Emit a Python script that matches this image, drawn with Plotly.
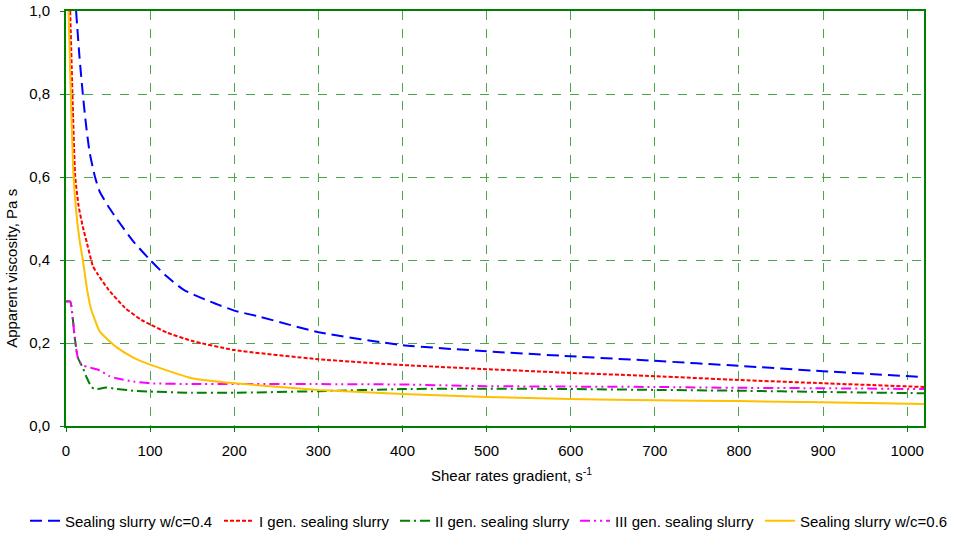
import plotly.graph_objects as go

# Data
x_blue = [12, 16, 20, 23, 28, 34.5, 40, 50, 60, 80, 100, 120, 140, 171, 200, 231, 300, 400, 500, 600, 700, 800, 900, 1020]
y_blue = [1.0, 0.89, 0.80, 0.74, 0.66, 0.60, 0.565, 0.53, 0.50, 0.445, 0.40, 0.36, 0.328, 0.30, 0.278, 0.263, 0.226, 0.195, 0.18, 0.168, 0.157, 0.145, 0.132, 0.118]

x_red = [5, 8.5, 11, 15, 20, 25, 32, 37, 50, 70, 90, 100, 120, 150, 200, 300, 400, 500, 600, 700, 800, 900, 1020]
y_red = [1.0, 0.74, 0.60, 0.53, 0.48, 0.44, 0.385, 0.368, 0.33, 0.285, 0.255, 0.245, 0.225, 0.205, 0.183, 0.161, 0.147, 0.137, 0.128, 0.12, 0.111, 0.103, 0.094]

x_green = [0, 5, 8, 10, 14, 20, 25, 30, 35, 40, 48, 58, 80, 100, 150, 200, 300, 400, 500, 600, 700, 800, 900, 1020]
y_green = [0.30, 0.30, 0.26, 0.22, 0.165, 0.14, 0.115, 0.095, 0.088, 0.090, 0.093, 0.090, 0.085, 0.083, 0.080, 0.080, 0.084, 0.089, 0.090, 0.089, 0.087, 0.085, 0.082, 0.079]

x_magenta = [0, 5, 8, 10, 14, 19, 25, 30, 40, 52, 60, 80, 100, 150, 200, 300, 400, 500, 600, 700, 800, 900, 1020]
y_magenta = [0.30, 0.30, 0.26, 0.22, 0.165, 0.147, 0.143, 0.140, 0.134, 0.120, 0.115, 0.107, 0.103, 0.101, 0.101, 0.101, 0.100, 0.096, 0.095, 0.094, 0.092, 0.091, 0.089]

x_yellow = [3, 5, 8.5, 12, 16, 20, 25, 30, 34.5, 40, 60, 80, 100, 150, 200, 300, 400, 500, 600, 700, 800, 900, 1020]
y_yellow = [1.0, 0.85, 0.62, 0.52, 0.45, 0.40, 0.33, 0.28, 0.255, 0.228, 0.19, 0.165, 0.148, 0.115, 0.103, 0.087, 0.077, 0.070, 0.065, 0.062, 0.060, 0.057, 0.053]

names = ["Sealing slurry w/c=0.4", "I gen. sealing slurry", "II gen. sealing slurry",
         "III gen. sealing slurry", "Sealing slurry w/c=0.6"]

x_title = "Shear rates gradient, s<sup>-1</sup>"
y_title = "Apparent viscosity, Pa s"

y_tickvals = [0, 0.2, 0.4, 0.6, 0.8, 1.0]
y_ticktext = ["0,0", "0,2", "0,4", "0,6", "0,8", "1,0"]
x_tickvals = [0, 100, 200, 300, 400, 500, 600, 700, 800, 900, 1000]

series = [
    (x_blue, y_blue, "#0000FF", "12px,6px", 2),
    (x_red, y_red, "#FF0000", "4px,2px", 2),
    (x_green, y_green, "#008000", "10px,4px,2px,4px", 2),
    (x_magenta, y_magenta, "#FF00FF", "10px,4px,2px,4px,2px,4px", 2),
    (x_yellow, y_yellow, "#FFC000", "solid", 2),
]

# left edge (px) of each legend entry, one legend box per series
legend_left_px = [25, 219, 395, 575, 760]
legend_ids = ["legend", "legend2", "legend3", "legend4", "legend5"]

W, H = 953, 535
fig = go.Figure()
for (xs, ys, c, d, w), n, lid in zip(series, names, legend_ids):
    fig.add_trace(go.Scatter(x=xs, y=ys, name=n, mode="lines", legend=lid, showlegend=True,
                             line=dict(color=c, dash=d, width=w, shape="spline", smoothing=0.5)))

green = "#008000"
grid = "#4CA64C"
FS = 15
layout_legends = {}
for lid, px in zip(legend_ids, legend_left_px):
    layout_legends[lid] = dict(orientation="h", xref="container", yref="container",
                               x=px / W, xanchor="left", y=(H - 521) / H, yanchor="middle",
                               font=dict(size=FS), itemwidth=30, bgcolor="rgba(0,0,0,0)",
                               visible=True)

fig.update_layout(
    width=W, height=H,
    showlegend=True,
    margin=dict(l=66, r=29, t=11, b=109, autoexpand=False),
    paper_bgcolor="white", plot_bgcolor="white",
    font=dict(family="Liberation Sans, Arial, sans-serif", size=FS, color="black"),
    xaxis=dict(range=[0, 1020], tickvals=x_tickvals, showgrid=True, gridcolor=grid,
               griddash="dash", gridwidth=1, showline=True, linecolor=green, linewidth=2,
               mirror=True, ticks="outside", tickcolor=green, ticklen=4, zeroline=False,
               ticklabelstandoff=6),
    yaxis=dict(range=[0, 1.0], tickvals=y_tickvals, ticktext=y_ticktext, showgrid=True,
               gridcolor=grid, griddash="dash", gridwidth=1, showline=True, linecolor=green,
               linewidth=2, mirror=True, ticks="outside", tickcolor=green, ticklen=4,
               zeroline=False, ticklabelstandoff=7),
    annotations=[
        dict(text=x_title, xref="paper", yref="paper", x=0.519, y=-0.118,
             xanchor="center", yanchor="middle", showarrow=False, font=dict(size=FS)),
        dict(text=y_title, xref="paper", yref="paper", x=-0.063, y=0.381,
             xanchor="center", yanchor="middle", textangle=-90, showarrow=False,
             font=dict(size=FS)),
    ],
    **layout_legends,
)

fig.write_html("out.html")
